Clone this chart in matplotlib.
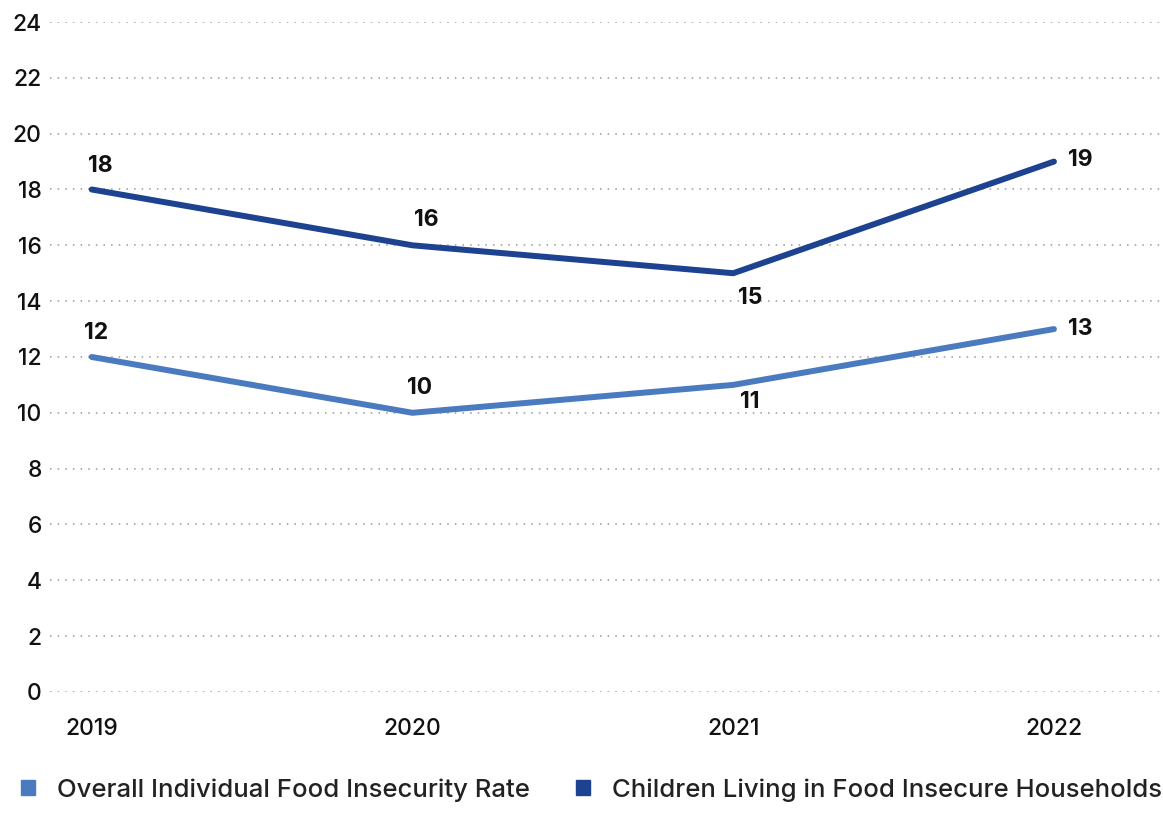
import matplotlib.pyplot as plt
from matplotlib.patches import Patch

years = ["2019", "2020", "2021", "2022"]
overall_rate = [12, 10, 11, 13]
children_rate = [18, 16, 15, 19]
y_ticks = list(range(0, 25, 2))

LIGHT = "#4a7bbf"
DARK = "#1d4290"
TEXT = "#111111"

plt.rcParams["font.family"] = ["Inter", "DejaVu Sans"]

fig = plt.figure(figsize=(11.63, 8.15), dpi=100)
ax = fig.add_axes([0.043, 0.151, 0.957, 0.822])

x = list(range(len(years)))
ax.plot(x, overall_rate, color=LIGHT, lw=4.3, solid_capstyle="round",
        solid_joinstyle="round", zorder=3)
ax.plot(x, children_rate, color=DARK, lw=4.3, solid_capstyle="round",
        solid_joinstyle="round", zorder=3)

# value labels: (dx in points, dy in points, ha)
offsets_dark = [(6, 17, "center"), (10, 18, "center"), (12, -18, "center"), (10, 1, "left")]
offsets_light = [(3, 17, "center"), (5, 18, "center"), (12, -12, "center"), (10, 0, "left")]
for series, offs in ((children_rate, offsets_dark), (overall_rate, offsets_light)):
    for xi, v, (dx, dy, ha) in zip(x, series, offs):
        ax.annotate(f"{v}", (xi, v), xytext=(dx, dy), textcoords="offset points",
                    ha=ha, va="center", fontsize=16.5, fontweight="bold", color=TEXT)

ax.set_ylim(0, 24)
ax.set_xlim(-0.13, 3.34)
ax.set_yticks(y_ticks)
ax.set_xticks(x)
ax.set_xticklabels(years)
ax.tick_params(axis="both", length=0, labelsize=16.5, colors=TEXT)
ax.tick_params(axis="y", pad=6)
ax.tick_params(axis="x", pad=19)
for lbl in ax.get_yticklabels() + ax.get_xticklabels():
    lbl.set_fontweight("medium")
ax.grid(axis="y", linestyle=(0, (1, 4)), color="#999999", lw=1.1)
for s in ax.spines.values():
    s.set_visible(False)

handles = [Patch(color=LIGHT, label="Overall Individual Food Insecurity Rate"),
           Patch(color=DARK, label="Children Living in Food Insecure Households")]
leg = fig.legend(handles=handles, loc="lower left", bbox_to_anchor=(-0.002, -0.012), ncol=2,
                 frameon=False, fontsize=18.5, handlelength=0.55, handleheight=0.55,
                 handletextpad=0.85, columnspacing=1.8, labelcolor="#222222")
for t in leg.get_texts():
    t.set_fontweight("medium")

fig.savefig("out.png", dpi=100)
